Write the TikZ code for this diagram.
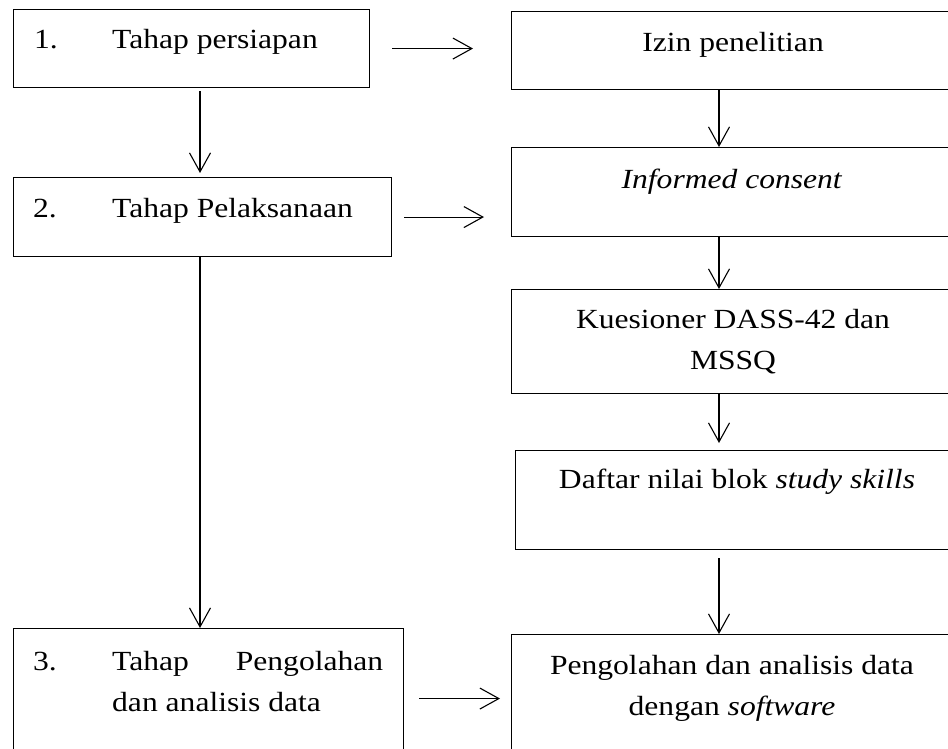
\documentclass[tikz,border=0pt]{standalone}
\usepackage{fontspec}
\setmainfont[FakeStretch=1.14]{Liberation Serif}
\usetikzlibrary{arrows.meta}

\begin{document}
\begin{tikzpicture}[
  x=1pt,y=-1pt,
  font=\fontsize{27.7}{41}\selectfont,
  box/.style={draw,line width=1.1pt,inner sep=0pt,anchor=north west},
  lbl/.style={inner sep=0pt,anchor=base,align=center},
  lbl left/.style={inner sep=0pt,anchor=base west,align=left},
  arr/.style={-{Straight Barb[length=19pt,width=21pt]},line width=1.1pt},
]
\useasboundingbox (0,0) rectangle (948,749);
\clip (0,0) rectangle (948,749);
% left column: stages
\node[box,minimum width=356pt,minimum height=78pt] (prep) at (13,9) {};
\node[box,minimum width=378pt,minimum height=79pt] (exec) at (13,177) {};
\node[box,minimum width=390pt,minimum height=140pt] (proc) at (13,628) {};
\node[lbl left] (prep-t) at (34,49) {\makebox[78pt][l]{1.}Tahap persiapan};
\node[lbl left] (exec-t) at (33,217) {\makebox[79pt][l]{2.}Tahap Pelaksanaan};
% base anchor of a two-line node sits on its last line
\node[lbl left] (proc-t) at (33,711)
  {\makebox[79pt][l]{3.}\makebox[271pt][s]{Tahap Pengolahan}\\
   \hspace*{79pt}dan analisis data};
% right column: activities
\node[box,minimum width=444pt,minimum height=78pt] (izin) at (511,11) {};
\node[box,minimum width=444pt,minimum height=89pt] (consent) at (511,147) {};
\node[box,minimum width=444pt,minimum height=104pt] (dass) at (511,289) {};
\node[box,minimum width=444pt,minimum height=99pt] (nilai) at (515,450) {};
\node[box,minimum width=444pt,minimum height=140pt] (soft) at (511,634) {};
\node[lbl] (izin-t) at (733,52) {Izin penelitian};
\node[lbl] (consent-t) at (732,188) {\textit{Informed consent}};
\node[lbl] (dass-t) at (733,369) {Kuesioner DASS-42 dan\\MSSQ};
\node[lbl] (nilai-t) at (737,488) {Daftar nilai blok \textit{study skills}};
\node[lbl] (soft-t) at (732,715) {Pengolahan dan analisis data\\dengan \textit{software}};
% arrows
\coordinate (lcol) at (200,0);
\coordinate (rcol) at (719,0);
\draw[arr,shorten <=3pt,shorten >=4pt] (prep.south -| lcol) -- (exec.north -| lcol);
\draw[arr] (exec.south -| lcol) -- (proc.north -| lcol);
\draw[arr,shorten <=22pt,shorten >=38pt] (prep.east) -- (izin.west |- prep.east);
\draw[arr,shorten <=12pt,shorten >=27pt] (exec.east) -- (consent.west |- exec.east);
\draw[arr,shorten <=15pt,shorten >=11pt] (proc.east) -- (soft.west |- proc.east);
\draw[arr] (izin.south -| rcol) -- (consent.north -| rcol);
\draw[arr] (consent.south -| rcol) -- (dass.north -| rcol);
\draw[arr,shorten >=7pt] (dass.south -| rcol) -- (nilai.north -| rcol);
\draw[arr,shorten <=8pt] (nilai.south -| rcol) -- (soft.north -| rcol);
\end{tikzpicture}
\end{document}
